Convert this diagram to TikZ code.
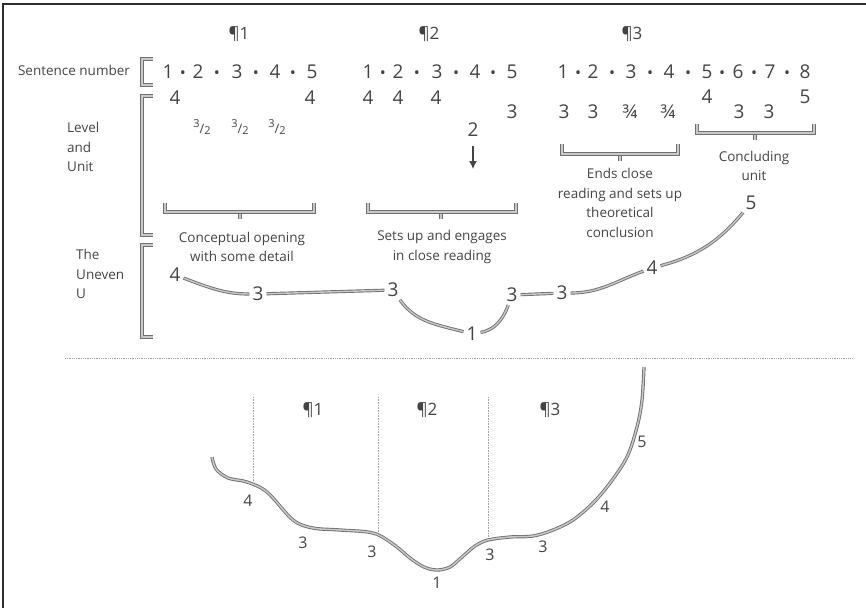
\documentclass[tikz,border=0pt]{standalone}
\usepackage{fontspec}
\setmainfont{Open Sans}
\usepackage{xcolor}
\usepackage{tikz}
\usetikzlibrary{arrows.meta}
\definecolor{figtext}{RGB}{68,68,68}
\definecolor{figline}{RGB}{112,112,112}
\definecolor{figfill}{RGB}{200,200,200}
\definecolor{figframe}{RGB}{45,45,45}
\definecolor{figdot}{RGB}{160,160,160}
\newcommand{\numsize}{\fontsize{19}{22}\selectfont}
\newcommand{\parsize}{\fontsize{17}{20}\selectfont}
\newcommand{\labsize}{\fontsize{13.5}{19.8}\selectfont}
\newcommand{\lowsize}{\fontsize{16}{18}\selectfont}
\newcommand{\hfr}[2]{\raisebox{0.5ex}{\fontsize{11}{11}\selectfont #1}{\fontsize{13}{13}\selectfont /}\raisebox{-0.1ex}{\fontsize{11}{11}\selectfont #2}}
\tikzset{
  num/.style  ={font=\numsize, text=figtext, inner sep=1pt},
  snum/.style ={num, anchor=base},
  bul/.style  ={font=\fontsize{16}{18}\selectfont, text=figtext, inner sep=0pt, anchor=base},
  par/.style  ={font=\parsize, text=figtext, inner sep=1pt},
  lab/.style  ={font=\labsize, text=figtext, inner sep=1pt, align=center},
  labl/.style ={font=\labsize, text=figtext, inner sep=1pt, align=left, anchor=west},
  low/.style  ={font=\lowsize, text=figtext, inner sep=1pt},
  brk/.style  ={draw=figline, double=figfill, line width=0.9pt, double distance=1.5pt},
  ucv/.style  ={draw=figline, double=figfill, line width=0.9pt, double distance=1.4pt, shorten >=2pt, shorten <=2pt},
  lcv/.style  ={draw=figline, double=figfill, line width=0.9pt, double distance=1.5pt},
  frm/.style  ={draw=figframe, line width=1.6pt},
  sepl/.style ={draw=figdot, line width=0.8pt, densely dotted},
  vdot/.style ={draw=figdot, line width=0.6pt, densely dotted},
  ptr/.style  ={draw=figtext, line width=1.3pt, -{Latex[length=8pt,width=8pt]}},
}
\begin{document}
\begin{tikzpicture}[x=1pt,y=1pt]
  \useasboundingbox (0,0) rectangle (866,-608);
  \draw[frm] (3,-608) -- (3,-4) -- (866,-4);
  \node[par] (p1) at (239,-34) {¶1};
  \node[par] (p2) at (429,-34) {¶2};
  \node[par] (p3) at (632,-34) {¶3};
  \node[lab] (lsn) at (74,-70) {Sentence number};
  \node[labl] (llu) at (66,-147) {Level\\and\\Unit};
  \node[labl] (luu) at (75,-274) {The\\Uneven\\U};
  \draw[brk] (153,-59) -- (142,-59) -- (142,-85) -- (153,-85);
  \draw[brk] (153,-96) -- (142,-96) -- (142,-235) -- (153,-235);
  \draw[brk] (153,-245) -- (142,-245) -- (142,-337) -- (153,-337);
  \node[snum] (a1) at (168,-78) {1};
  \node[bul] (ab1) at (183,-78) {•};
  \node[snum] (a2) at (198,-78) {2};
  \node[bul] (ab2) at (217,-78) {•};
  \node[snum] (a3) at (237,-78) {3};
  \node[bul] (ab3) at (256,-78) {•};
  \node[snum] (a4) at (275,-78) {4};
  \node[bul] (ab4) at (293,-78) {•};
  \node[snum] (a5) at (312,-78) {5};
  \node[snum] (b1) at (368,-78) {1};
  \node[bul] (bb1) at (383,-78) {•};
  \node[snum] (b2) at (398,-78) {2};
  \node[bul] (bb2) at (417,-78) {•};
  \node[snum] (b3) at (437,-78) {3};
  \node[bul] (bb3) at (456,-78) {•};
  \node[snum] (b4) at (475,-78) {4};
  \node[bul] (bb4) at (493,-78) {•};
  \node[snum] (b5) at (512,-78) {5};
  \node[snum] (c1) at (563,-78) {1};
  \node[bul] (cb1) at (578,-78) {•};
  \node[snum] (c2) at (593,-78) {2};
  \node[bul] (cb2) at (612,-78) {•};
  \node[snum] (c3) at (631,-78) {3};
  \node[bul] (cb3) at (650,-78) {•};
  \node[snum] (c4) at (669,-78) {4};
  \node[bul] (cb4) at (688,-78) {•};
  \node[snum] (c5) at (707,-78) {5};
  \node[bul] (cb5) at (722,-78) {•};
  \node[snum] (c6) at (738,-78) {6};
  \node[bul] (cb6) at (754,-78) {•};
  \node[snum] (c7) at (770,-78) {7};
  \node[bul] (cb7) at (787,-78) {•};
  \node[snum] (c8) at (805,-78) {8};
  \node[num] (la1) at (175,-98) {4};
  \node[num] (la2) at (310,-98) {4};
  \node[num] (la3) at (202,-127) {\hfr{3}{2}};
  \node[num] (la4) at (240,-127) {\hfr{3}{2}};
  \node[num] (la5) at (277,-127) {\hfr{3}{2}};
  \node[num] (lb1) at (368,-98) {4};
  \node[num] (lb2) at (398,-98) {4};
  \node[num] (lb3) at (436,-98) {4};
  \node[num] (lb4) at (512,-112) {3};
  \node[num] (lb5) at (473,-130) {2};
  \coordinate (lbarr) at (473,-169);
  \draw[ptr, shorten <=8pt] (lb5) -- (lbarr);
  \node[num] (lc1) at (564,-112) {3};
  \node[num] (lc2) at (593,-112) {3};
  \node[num] (lc3) at (630,-112) {¾};
  \node[num] (lc4) at (668,-112) {¾};
  \node[num] (lc5) at (707,-97) {4};
  \node[num] (lc6) at (739,-112) {3};
  \node[num] (lc7) at (769,-112) {3};
  \node[num] (lc8) at (805,-97) {5};
  \draw[brk] (165,-203) -- (165,-212) -- (314,-212) -- (314,-203);
  \draw[brk] (240,-213.5) -- (240,-219);
  \draw[brk] (368,-203) -- (368,-212) -- (516,-212) -- (516,-203);
  \draw[brk] (441,-213.5) -- (441,-219);
  \draw[brk] (562,-144) -- (562,-154) -- (678,-154) -- (678,-144);
  \draw[brk] (620,-155.5) -- (620,-161);
  \draw[brk] (697,-124) -- (697,-133) -- (814,-133) -- (814,-124);
  \draw[brk] (755,-134.5) -- (755,-140);
  \node[lab] (ta) at (242,-247) {Conceptual opening\\with some detail};
  \node[lab] (tb) at (442,-247) {Sets up and engages\\in close reading};
  \node[lab] (tc) at (620,-203) {Ends close\\reading and sets up\\theoretical\\conclusion};
  \node[lab] (td) at (754,-166) {Concluding\\unit};
  \node[num] (u1) at (175,-275) {4};
  \node[num] (u2) at (258,-294) {3};
  \node[num] (u3) at (393,-290) {3};
  \node[num] (u4) at (472,-334) {1};
  \node[num] (u5) at (512,-295) {3};
  \node[num] (u6) at (562,-293) {3};
  \node[num] (u7) at (652,-268) {4};
  \node[num] (u8) at (751,-203) {5};
  \draw[ucv] (u1) to[out=-20,in=180] (u2);
  \draw[ucv] (u2) -- (u3);
  \draw[ucv] (u3) to[out=-55,in=165] (u4);
  \draw[ucv] (u4) to[out=10,in=-110] (u5);
  \draw[ucv] (u5) -- (u6);
  \draw[ucv] (u6) to[out=0,in=200] (u7);
  \draw[ucv] (u7) to[out=15,in=-130] (u8);
  \draw[sepl] (65,-358) -- (852,-358);
  \draw[vdot] (253,-397) -- (253,-481);
  \draw[vdot] (378,-397) -- (378,-533);
  \draw[vdot] (488,-397) -- (488,-539);
  \node[par] (q1) at (313,-410) {¶1};
  \node[par] (q2) at (427,-410) {¶2};
  \node[par] (q3) at (550,-410) {¶3};
  \draw[lcv] plot[smooth, tension=0.55] coordinates {(212,-457) (216,-469) (228,-478) (247,-482) (267,-492) (293,-520) (313,-528) (340,-530) (373,-533) (393,-544) (410,-558) (424,-567) (437,-570) (450,-567) (462,-557) (475,-546) (488,-540) (510,-537) (533,-536) (553,-530) (573,-520) (593,-503) (610,-483) (627,-457) (637,-427) (642,-400) (644,-367)};
  \node[low] (w1) at (248,-501) {4};
  \node[low] (w2) at (303,-543) {3};
  \node[low] (w3) at (372,-552) {3};
  \node[low] (w4) at (437,-583) {1};
  \node[low] (w5) at (490,-555) {3};
  \node[low] (w6) at (543,-547) {3};
  \node[low] (w7) at (605,-507) {4};
  \node[low] (w8) at (642,-442) {5};
\end{tikzpicture}
\end{document}
